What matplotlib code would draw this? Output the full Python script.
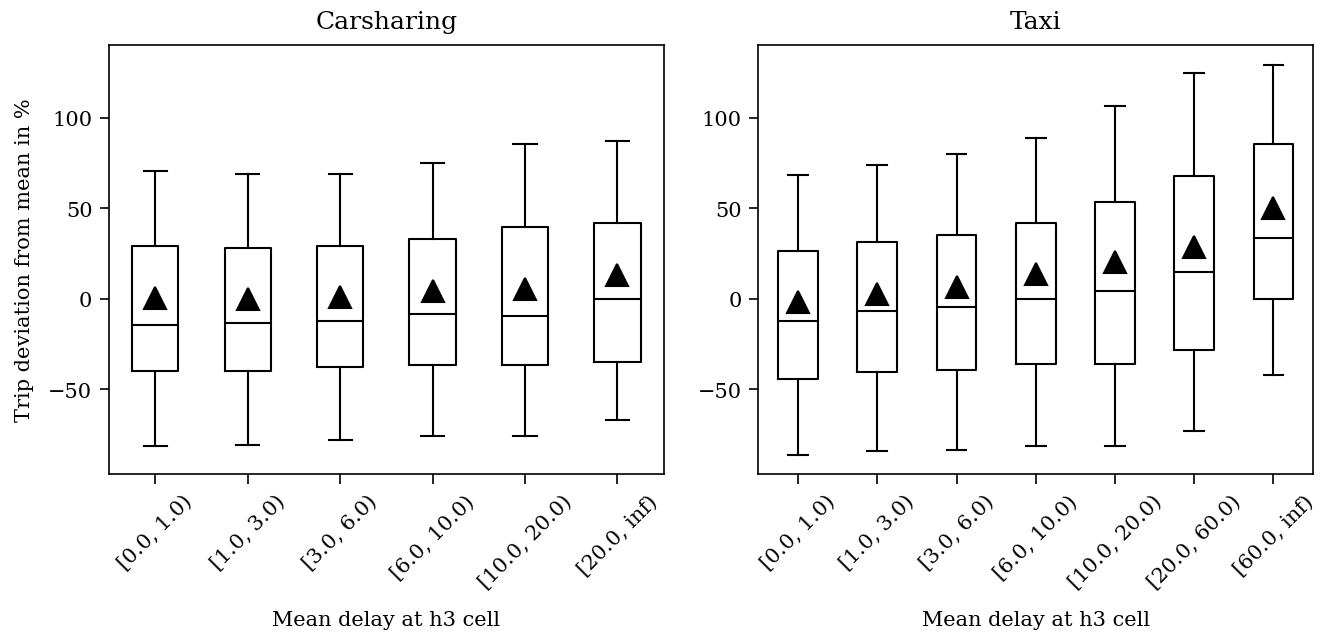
import matplotlib
matplotlib.use('Agg')
from matplotlib import pyplot as plt

plt.rcParams['font.family'] = 'DejaVu Serif'
plt.rcParams['xtick.major.size'] = 4.8
plt.rcParams['ytick.major.size'] = 4.5

# Carsharing
car_labels = ['[0.0, 1.0)', '[1.0, 3.0)', '[3.0, 6.0)', '[6.0, 10.0)',
              '[10.0, 20.0)', '[20.0, inf)']
car_whislo = [-81.4, -80.5, -77.7, -75.5, -75.9, -66.7]
car_q1 = [-40.0, -39.6, -37.6, -36.5, -36.5, -35.0]
car_med = [-14.4, -13.4, -12.3, -8.5, -9.6, 0.0]
car_q3 = [29.3, 28.4, 29.3, 33.3, 40.0, 42.2]
car_whishi = [70.9, 69.0, 69.0, 75.0, 85.8, 87.5]
car_mean = [0.4, -0.2, 1.0, 4.2, 5.5, 13.4]

# Taxi
taxi_labels = ['[0.0, 1.0)', '[1.0, 3.0)', '[3.0, 6.0)', '[6.0, 10.0)',
               '[10.0, 20.0)', '[20.0, 60.0)', '[60.0, inf)']
taxi_whislo = [-86.0, -83.8, -83.6, -81.4, -81.4, -72.7, -41.8]
taxi_q1 = [-44.0, -40.5, -39.0, -36.1, -35.7, -28.4, 0.0]
taxi_med = [-12.3, -6.6, -4.6, 0.0, 4.2, 15.1, 33.9]
taxi_q3 = [26.5, 31.3, 35.4, 42.2, 53.4, 67.8, 85.8]
taxi_whishi = [68.5, 74.2, 79.9, 89.0, 106.6, 125.0, 129.5]
taxi_mean = [-1.8, 2.8, 6.4, 13.6, 20.6, 28.5, 50.1]


def make_stats(labels, lo, q1, med, q3, hi, mean):
    stats = []
    for i in range(len(labels)):
        stats.append(dict(label=labels[i], whislo=lo[i], q1=q1[i], med=med[i],
                          q3=q3[i], whishi=hi[i], mean=mean[i], fliers=[]))
    return stats


fig, axes = plt.subplots(1, 2, figsize=(8.833, 4.233), dpi=150)
plt.subplots_adjust(left=0.0823, right=0.991, top=0.9276, bottom=0.252,
                    wspace=0.171)

panels = [
    ('Carsharing', make_stats(car_labels, car_whislo, car_q1, car_med,
                              car_q3, car_whishi, car_mean)),
    ('Taxi', make_stats(taxi_labels, taxi_whislo, taxi_q1, taxi_med,
                        taxi_q3, taxi_whishi, taxi_mean)),
]

for ax, (title, stats) in zip(axes, panels):
    ax.bxp(stats, showmeans=True, showfliers=False,
           medianprops=dict(color='black'),
           meanprops=dict(marker='^', markerfacecolor='black',
                          markeredgecolor='black', markersize=10.5))
    ax.set_title(title, pad=8)
    ax.set_ylim(-96.7, 140.3)
    ax.set_xlabel('Mean delay at h3 cell', labelpad=9)
    plt.setp(ax.get_xticklabels(), rotation=45)

axes[0].set_ylabel('Trip deviation from mean in %', labelpad=7)

plt.savefig('out.png')
